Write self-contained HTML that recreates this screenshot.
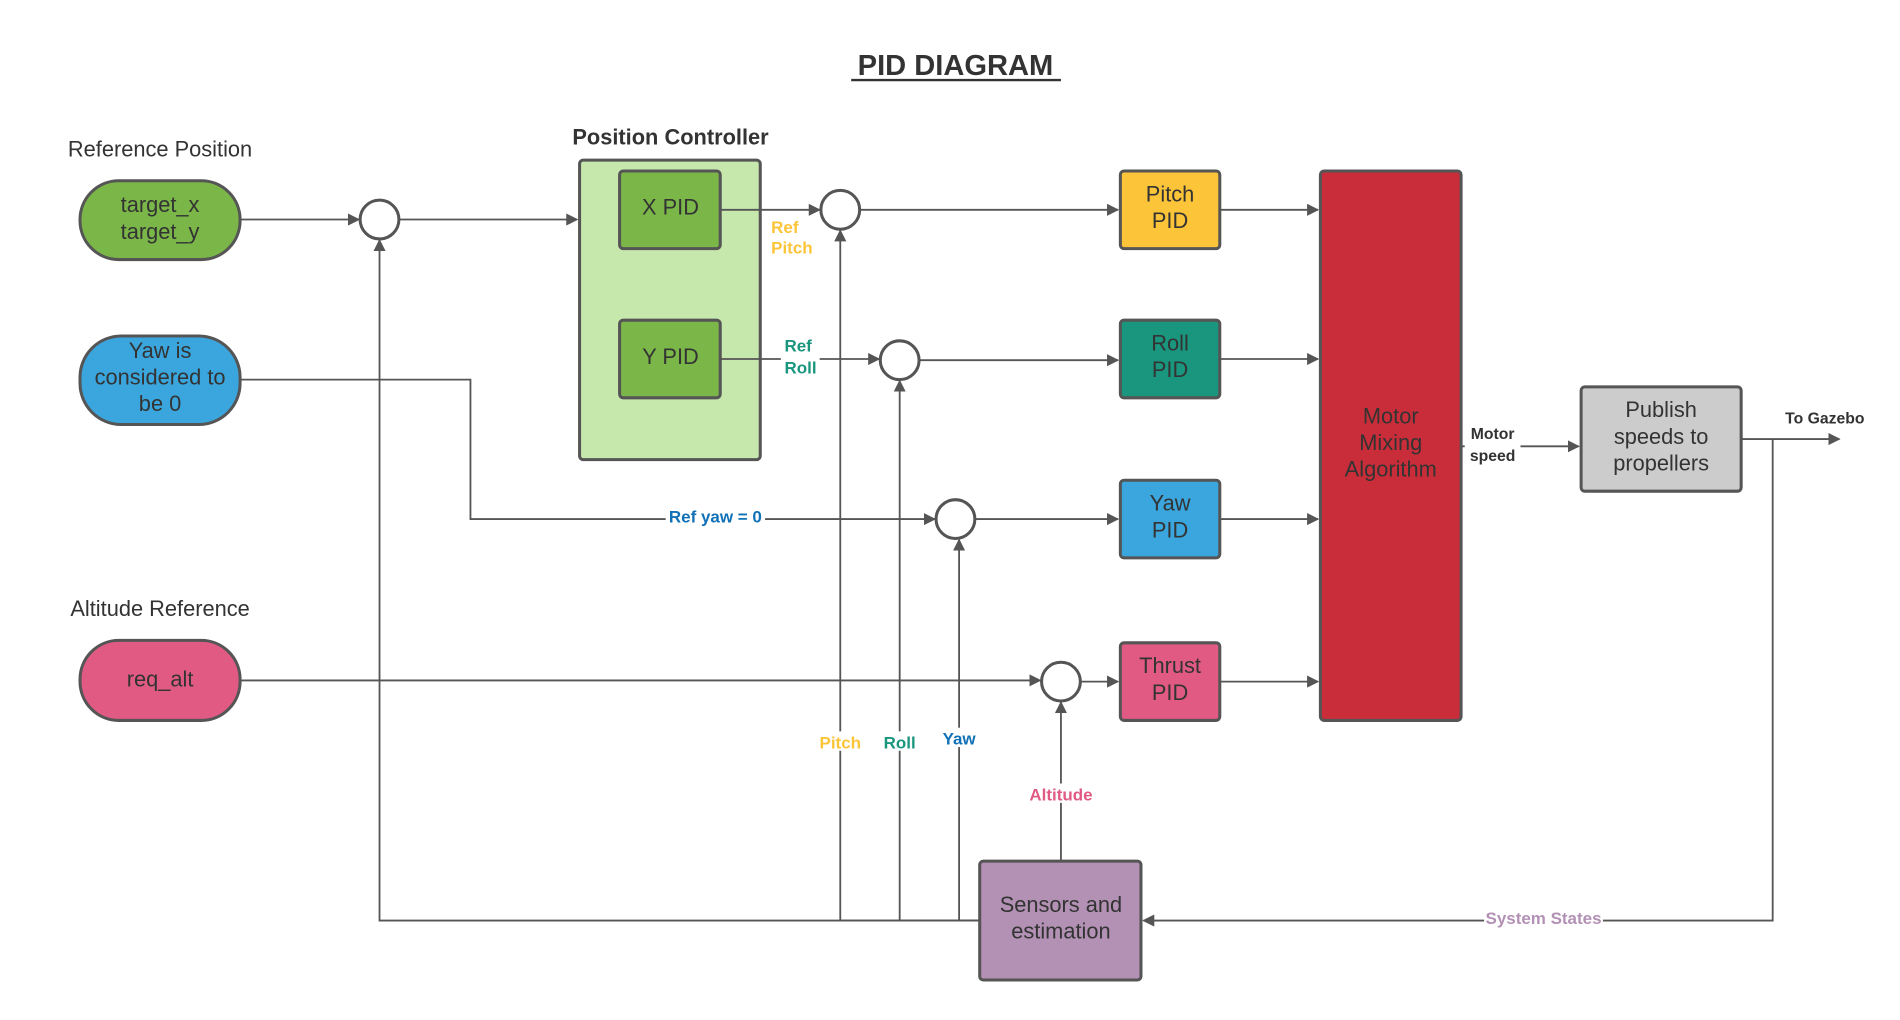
<!DOCTYPE html>
<html><head><meta charset="utf-8"><style>html,body{margin:0;padding:0;background:#fff}svg{display:block}</style></head>
<body>
<svg width="1900" height="1020" viewBox="0 0 1567 841" preserveAspectRatio="none" xmlns="http://www.w3.org/2000/svg" font-family="Liberation Sans, sans-serif">
<defs><marker id="a" markerWidth="10" markerHeight="10" refX="9" refY="5" orient="auto" markerUnits="userSpaceOnUse"><path d="M0,0 L10,5 L0,10 z" fill="#555"/></marker></defs>
<rect width="1567" height="841" fill="#fff"/>
<text x="788" y="62" font-size="24" font-weight="bold" text-anchor="middle" fill="#333">PID DIAGRAM</text>
<line x1="702" y1="66" x2="875" y2="66" stroke="#333" stroke-width="2"/>
<g font-size="18" fill="#333" text-anchor="middle">
<text x="132" y="129">Reference Position</text>
<text x="132" y="508">Altitude Reference</text>
<text x="553" y="119" font-weight="bold">Position Controller</text>
</g>
<g stroke="#555" stroke-width="2.5">
<rect x="66" y="149" width="132" height="65" rx="32" fill="#7ab648"/>
<rect x="66" y="277" width="132" height="73" rx="34" fill="#3aa6dd"/>
<rect x="66" y="528" width="132" height="66" rx="32" fill="#e05a84"/>
<rect x="478" y="132" width="149" height="247" rx="3" fill="#c7e8ac"/>
<rect x="511" y="141" width="83" height="64" rx="3" fill="#7ab648"/>
<rect x="511" y="264" width="83" height="64" rx="3" fill="#7ab648"/>
<rect x="924" y="141" width="82" height="64" rx="3" fill="#fcc438"/>
<rect x="924" y="264" width="82" height="64" rx="3" fill="#19967d"/>
<rect x="924" y="396" width="82" height="64" rx="3" fill="#3aa6dd"/>
<rect x="924" y="530" width="82" height="64" rx="3" fill="#e05a84"/>
<rect x="1089" y="141" width="116" height="453" rx="3" fill="#c92d39"/>
<rect x="1304" y="319" width="132" height="86" rx="3" fill="#cccccc"/>
<rect x="808" y="710" width="133" height="98" rx="3" fill="#b291b4"/>
<circle cx="313" cy="181" r="16" fill="#fff"/>
<circle cx="693" cy="173" r="16" fill="#fff"/>
<circle cx="742" cy="297" r="16" fill="#fff"/>
<circle cx="788" cy="428" r="16" fill="#fff"/>
<circle cx="875" cy="562" r="16" fill="#fff"/>
</g>
<g stroke="#555" stroke-width="1.5" fill="none" marker-end="url(#a)">
<path d="M198,181 H296"/>
<path d="M329,181 H476"/>
<path d="M594,173 H676"/>
<path d="M709,173 H922"/>
<path d="M594,296 H725"/>
<path d="M758,297 H922"/>
<path d="M198,313 H388 V428 H771"/>
<path d="M804,428 H922"/>
<path d="M198,561 H858"/>
<path d="M891,562 H922"/>
<path d="M1006,173 H1087"/>
<path d="M1006,296 H1087"/>
<path d="M1006,428 H1087"/>
<path d="M1006,562 H1087"/>
<path d="M1205,368 H1302"/>
<path d="M1436,362 H1517"/>
<path d="M1462,362 V759 H943"/>
<path d="M808,759 H313 V198"/>
<path d="M808,759 H693 V190"/>
<path d="M808,759 H742 V314"/>
<path d="M808,759 H791 V445"/>
<path d="M875,710 V579"/>
</g>
<g font-size="18" fill="#333" text-anchor="middle">
<text x="132" y="175">target_x</text><text x="132" y="197">target_y</text>
<text x="132" y="295">Yaw is</text><text x="132" y="317">considered to</text><text x="132" y="339">be 0</text>
<text x="132" y="566">req_alt</text>
<text x="553" y="177">X PID</text><text x="553" y="300">Y PID</text>
<text x="965" y="166">Pitch</text><text x="965" y="188">PID</text>
<text x="965" y="289">Roll</text><text x="965" y="311">PID</text>
<text x="965" y="421">Yaw</text><text x="965" y="443">PID</text>
<text x="965" y="555">Thrust</text><text x="965" y="577">PID</text>
<text x="1147" y="349">Motor</text><text x="1147" y="371">Mixing</text><text x="1147" y="393">Algorithm</text>
<text x="1370" y="344">Publish</text><text x="1370" y="366">speeds to</text><text x="1370" y="388">propellers</text>
<text x="875" y="752">Sensors and</text><text x="875" y="774">estimation</text>
</g>
<g font-size="14" font-weight="bold">
<text x="636" y="192" fill="#fcc438">Ref</text><text x="636" y="209" fill="#fcc438">Pitch</text>
<rect x="644" y="277" width="32" height="36" fill="#fff"/>
<text x="647" y="290" fill="#19967d">Ref</text><text x="647" y="308" fill="#19967d">Roll</text>
<rect x="549" y="418" width="82" height="16" fill="#fff"/>
<text x="590" y="431" fill="#1071b6" text-anchor="middle">Ref yaw = 0</text>
<rect x="1208" y="348" width="46" height="36" fill="#fff"/>
<text x="1231" y="362" fill="#333" text-anchor="middle" font-size="13">Motor</text>
<text x="1231" y="380" fill="#333" text-anchor="middle" font-size="13">speed</text>
<text x="1505" y="349" fill="#333" text-anchor="middle" font-size="13">To Gazebo</text>
<rect x="1224" y="749" width="98" height="16" fill="#fff"/>
<text x="1273" y="762" fill="#b291b4" text-anchor="middle">System States</text>
<rect x="672" y="603" width="42" height="16" fill="#fff"/>
<text x="693" y="617" fill="#fcc438" text-anchor="middle">Pitch</text>
<rect x="727" y="603" width="30" height="16" fill="#fff"/>
<text x="742" y="617" fill="#19967d" text-anchor="middle">Roll</text>
<rect x="776" y="600" width="30" height="16" fill="#fff"/>
<text x="791" y="614" fill="#1071b6" text-anchor="middle">Yaw</text>
<rect x="846" y="646" width="58" height="16" fill="#fff"/>
<text x="875" y="660" fill="#e05a84" text-anchor="middle">Altitude</text>
</g>
</svg>
</body></html>
